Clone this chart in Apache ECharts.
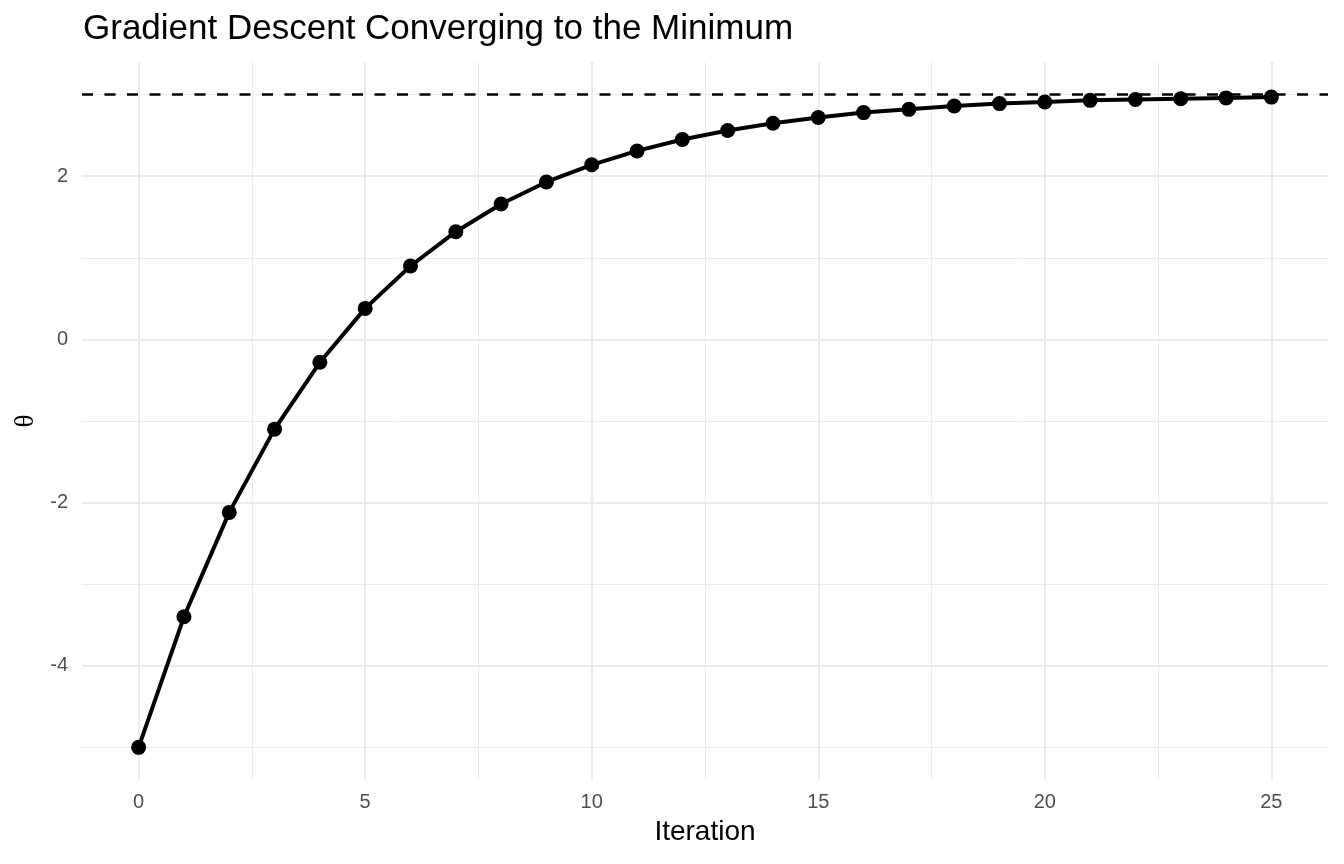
<!DOCTYPE html>
<html>
<head>
<meta charset="utf-8">
<script src="https://cdn.jsdelivr.net/npm/echarts@6/dist/echarts.min.js"></script>
<style>
  html, body { margin: 0; padding: 0; background: #fff; }
  #chart { width: 1344px; height: 864px; }
</style>
</head>
<body>
<div id="chart"></div>
<script>
// iterations and theta values
var iterations = [0, 1, 2, 3, 4, 5, 6, 7, 8, 9, 10, 11, 12, 13, 14, 15, 16, 17, 18, 19, 20, 21, 22, 23, 24, 25];
var theta = [-5, -3.4, -2.12, -1.1, -0.28, 0.38, 0.9, 1.32, 1.66, 1.93, 2.14, 2.31, 2.45, 2.56, 2.65, 2.72,
  2.78, 2.82, 2.86, 2.89, 2.91, 2.93, 2.94, 2.95, 2.96, 2.97];
var minimum = 3;

// tick positions
var xMajor = [0, 5, 10, 15, 20, 25];
var xMinor = [2.5, 7.5, 12.5, 17.5, 22.5];
var yMajor = [-4, -2, 0, 2];
var yMinor = [-5, -3, -1, 1, 3];

var points = iterations.map(function (it, i) { return [it, theta[i]]; });

var gridLines = [];
xMinor.forEach(function (v) { gridLines.push({ xAxis: v, lineStyle: { width: 1 } }); });
yMinor.forEach(function (v) { gridLines.push({ yAxis: v, lineStyle: { width: 1 } }); });
xMajor.forEach(function (v) { gridLines.push({ xAxis: v, lineStyle: { width: 2 } }); });
yMajor.forEach(function (v) { gridLines.push({ yAxis: v, lineStyle: { width: 2 } }); });

var sans = 'Liberation Sans, Arial, sans-serif';

var chart = echarts.init(document.getElementById('chart'));
var option = {
  animation: false,
  backgroundColor: '#fff',
  title: {
    text: 'Gradient Descent Converging to the Minimum',
    left: 83,
    top: 12,
    padding: 0,
    textStyle: { fontFamily: sans, fontSize: 35, fontWeight: 'normal', color: '#000' }
  },
  grid: { left: 82, right: 16, top: 62, bottom: 84 },
  xAxis: {
    type: 'value',
    min: -1.25,
    max: 26.25,
    name: 'Iteration',
    nameLocation: 'middle',
    nameGap: 38,
    nameTextStyle: { fontFamily: sans, fontSize: 28, color: '#000' },
    axisLine: { show: false },
    axisTick: { show: false },
    splitLine: { show: false },
    axisLabel: {
      customValues: xMajor,
      margin: 12,
      fontFamily: sans,
      fontSize: 20,
      color: '#4d4d4d'
    }
  },
  yAxis: {
    type: 'value',
    min: -5.4,
    max: 3.4,
    name: 'θ',
    nameLocation: 'middle',
    nameGap: 43,
    nameRotate: 90,
    nameTextStyle: { fontFamily: 'Liberation Serif, Times New Roman, serif', fontSize: 27, color: '#000' },
    axisLine: { show: false },
    axisTick: { show: false },
    splitLine: { show: false },
    axisLabel: {
      customValues: yMajor,
      margin: 14,
      fontFamily: sans,
      fontSize: 20,
      color: '#4d4d4d'
    }
  },
  series: [
    {
      // background grid
      type: 'line',
      data: [],
      z: 0,
      silent: true,
      markLine: {
        z: 0,
        silent: true,
        symbol: 'none',
        label: { show: false },
        lineStyle: { color: '#ebebeb', type: 'solid' },
        emphasis: { disabled: true },
        data: gridLines
      }
    },
    {
      // minimum reference
      type: 'line',
      data: [],
      z: 1,
      silent: true,
      markLine: {
        z: 1,
        silent: true,
        symbol: 'none',
        label: { show: false },
        lineStyle: { color: '#000', type: [11, 11.5], width: 2.5 },
        emphasis: { disabled: true },
        data: [{ yAxis: minimum }]
      }
    },
    {
      type: 'line',
      data: points,
      z: 10,
      symbol: 'circle',
      symbolSize: 15,
      lineStyle: { color: '#000', width: 4 },
      itemStyle: { color: '#000' }
    }
  ]
};
chart.setOption(option);
</script>
</body>
</html>
